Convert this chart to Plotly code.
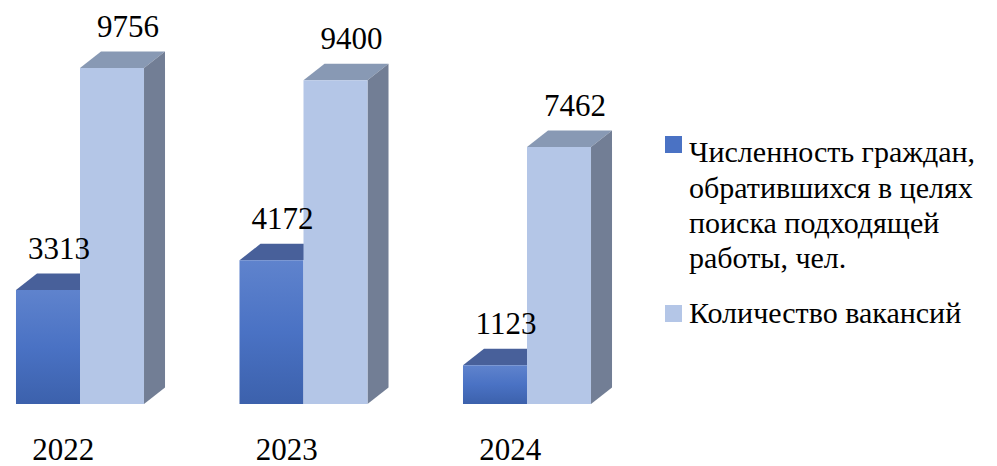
import plotly.graph_objects as go

# ---- data ----
years = ["2022", "2023", "2024"]
citizens = [3313, 4172, 1123]      # Численность граждан, обратившихся ...
vacancies = [9756, 9400, 7462]     # Количество вакансий
legend_lines_1 = ["Численность граждан,", "обратившихся в целях",
                  "поиска подходящей", "работы, чел."]
legend_name_2 = "Количество вакансий"

# ---- style / geometry ----
W = 0.2864        # bar width (x units)
DX = 0.094        # 3D depth offset in x units
DY = 479          # 3D depth offset in y units
FONT = "Liberation Serif"
BLUE_TOP = "#48609a"
LIGHT_FRONT = "#b4c6e7"
LIGHT_TOP = "#8899b4"
LIGHT_SIDE = "#727e95"

FW, FH = 989, 458          # figure size (page body adds an 8px margin)
X0PX, XSTEP = 72, 223.5    # pixel position of category 0 boundary and step
BASE, YSCALE = 396, 0.03444
PLOT_BOTTOM = 420

fig = go.Figure()

def poly(xs, ys, color=None, grad=None):
    kw = dict(x=xs + [xs[0]], y=ys + [ys[0]], mode="lines", fill="toself",
              line=dict(width=0), hoverinfo="skip", showlegend=False)
    if grad is not None:
        kw["fillgradient"] = grad
    else:
        kw["fillcolor"] = color
    fig.add_trace(go.Scatter(**kw))

blue_grad = dict(type="vertical",
                 colorscale=[[0, "#3c61ac"], [0.5, "#4a72c4"], [1, "#5f83cd"]])

for i, (v, V) in enumerate(zip(citizens, vacancies)):
    poly([i - W, i, i + DX, i - W + DX], [v, v, v + DY, v + DY], BLUE_TOP)
    poly([i - W, i, i, i - W], [0, 0, v, v], grad=blue_grad)
    poly([i, i + W, i + W + DX, i + DX], [V, V, V + DY, V + DY], LIGHT_TOP)
    poly([i + W, i + W + DX, i + W + DX, i + W], [0, DY, V + DY, V], LIGHT_SIDE)
    poly([i, i + W, i + W, i], [0, 0, V, V], LIGHT_FRONT)

# data labels (pixel offsets converted to data units)
LBL_DY = 39 / YSCALE
idx = list(range(len(years)))
fig.add_trace(go.Scatter(
    x=[i - W / 2 + 11 / XSTEP for i in idx], y=[v + LBL_DY for v in citizens],
    text=[str(v) for v in citizens], mode="text", textposition="middle center",
    textfont=dict(family=FONT, size=31, color="black"), cliponaxis=False,
    hoverinfo="skip", showlegend=False))
fig.add_trace(go.Scatter(
    x=[i + W / 2 + 16 / XSTEP for i in idx], y=[V + LBL_DY for V in vacancies],
    text=[str(V) for V in vacancies], mode="text", textposition="middle center",
    textfont=dict(family=FONT, size=31, color="black"), cliponaxis=False,
    hoverinfo="skip", showlegend=False))

PH = PLOT_BOTTOM
def px_x(p):
    return (p - 8) / FW
def px_y(p):
    return 1 - (p - 8) / PH

annotations = []
leg_y = [151, 187, 222, 257]
for txt, yy in zip(legend_lines_1, leg_y):
    annotations.append(dict(x=px_x(687), y=px_y(yy), xref="paper", yref="paper",
                            text=txt, showarrow=False, xanchor="left", yanchor="middle",
                            font=dict(family=FONT, size=30, color="black")))
annotations.append(dict(x=px_x(687), y=px_y(312), xref="paper", yref="paper",
                        text=legend_name_2, showarrow=False, xanchor="left", yanchor="middle",
                        font=dict(family=FONT, size=30, color="black")))

shapes = [
    dict(type="rect", xref="paper", yref="paper", x0=px_x(665), x1=px_x(682),
         y0=px_y(153), y1=px_y(136), fillcolor="#4a72c4", line=dict(width=0)),
    dict(type="rect", xref="paper", yref="paper", x0=px_x(665), x1=px_x(682),
         y0=px_y(322), y1=px_y(305), fillcolor=LIGHT_FRONT, line=dict(width=0)),
]

fig.update_layout(
    width=FW, height=FH,
    margin=dict(l=0, r=0, t=0, b=FH - PLOT_BOTTOM),
    paper_bgcolor="white", plot_bgcolor="white",
    font=dict(family=FONT, color="black"),
    showlegend=False,
    annotations=annotations,
    shapes=shapes,
    xaxis=dict(range=[-X0PX / XSTEP, (FW - X0PX) / XSTEP],
               tickvals=[i - 0.075 for i in idx], ticktext=years,
               showgrid=False, zeroline=False, showline=False, ticks="",
               automargin=False,
               tickfont=dict(family=FONT, size=31, color="black")),
    yaxis=dict(range=[(BASE - PLOT_BOTTOM) / YSCALE, BASE / YSCALE], visible=False,
               showgrid=False, zeroline=False, automargin=False),
)

fig.write_html("out.html")
